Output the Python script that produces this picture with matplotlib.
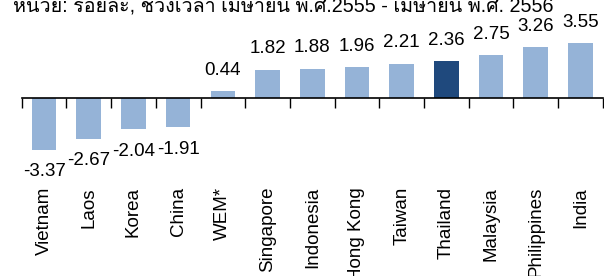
import matplotlib
matplotlib.use('Agg')
import matplotlib.pyplot as plt
import matplotlib.transforms as mtransforms
from matplotlib import font_manager
from matplotlib.ft2font import FT2Font

# ข้อมูล
paises = ['Vietnam', 'Laos', 'Korea', 'China', 'WEM*', 'Singapore', 'Indonesia',
          'Hong Kong', 'Taiwan', 'Thailand', 'Malaysia', 'Philippines', 'India']
valores = [-3.37, -2.67, -2.04, -1.91, 0.44, 1.82, 1.88, 1.96, 2.21, 2.36, 2.75, 3.26, 3.55]
destaque = 'Thailand'
titulo = 'หน่วย: ร้อยละ, ช่วงเวลา เมษายน พ.ศ.2555 - เมษายน พ.ศ. 2556'


# procurar uma fonte instalada que tenha os caracteres tailandeses
def fonte_thai():
    for f in font_manager.fontManager.ttflist:
        try:
            cmap = FT2Font(f.fname).get_charmap()
        except Exception:
            continue
        if 0x0E2B in cmap and 0x0E48 in cmap:
            return f.name
    return None


familias = ['Liberation Sans', 'DejaVu Sans']
thai = fonte_thai()
if thai:
    familias = ['Liberation Sans', thai, 'DejaVu Sans']

plt.rcParams['font.family'] = ['Liberation Sans', 'DejaVu Sans']

fig = plt.figure(figsize=(6.04, 2.76), dpi=100)
ax = fig.add_axes([0.036, 0.0, 0.962, 1.0])

cores = ['#1F497D' if p == destaque else '#95B3D7' for p in paises]
x = list(range(len(paises)))
ax.bar(x, valores, width=0.55, color=cores)

ax.set_xlim(-0.5, len(paises) - 0.5)
ax.set_ylim(-11.58, 6.34)

# rótulos de valor
for xi, v in zip(x, valores):
    off = 15 if v > 0 else -16
    ax.annotate(f'{v:.2f}', (xi, v), xytext=(0, off), textcoords='offset points',
                ha='center', va='center', fontsize=13.5)

# nomes das categorias, girados
trans = mtransforms.blended_transform_factory(ax.transData, fig.transFigure)
for xi, p in zip(x, paises):
    ax.text(xi, 1 - 187 / 276, p, rotation=90, ha='center', va='top',
            fontsize=13.5, transform=trans)

# eixo em zero com marcas entre as barras
for s in ['top', 'right', 'left']:
    ax.spines[s].set_visible(False)
ax.spines['bottom'].set_position(('data', 0))
ax.spines['bottom'].set_linewidth(1.2)
ax.set_xticks([i - 0.5 for i in range(len(paises) + 1)])
ax.set_xticklabels([])
ax.tick_params(axis='x', direction='out', length=7, width=1.0)
ax.set_yticks([])

# título cortado no topo, como na imagem original
fig.text(13 / 604, 1 - 11 / 276, titulo, ha='left', va='baseline', fontsize=14.2,
         family=familias)

plt.savefig('out.png', dpi=100)
